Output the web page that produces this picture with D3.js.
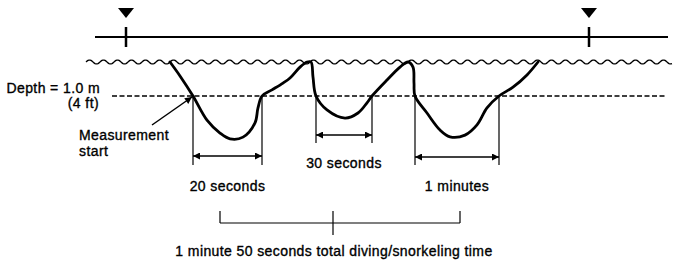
<!DOCTYPE html>
<html><head><meta charset="utf-8">
<script src="https://cdn.jsdelivr.net/npm/d3@7"></script>
<style>
body{margin:0;background:#fff}
svg{display:block}
text{font-family:"Liberation Sans",Arial,sans-serif;font-size:14px;letter-spacing:0.4px;fill:#000;stroke:#000;stroke-width:0.35px}
</style></head><body><div id="chart"></div>
<script>
// dive profile : time (diagram units) / depth (m)
var profileTime = [16.8, 18.8, 21.4, 24.2, 26.8, 28.8, 31.4, 33.8, 34.4, 35.2, 37.2, 39.4, 40.8, 42.8, 44.2, 45.0, 45.4, 46.0, 48.2, 51.8, 54.4, 56.2, 57.2, 60.2, 62.8, 64.4, 65.4, 65.6, 65.8, 68.2, 70.8, 72.8, 75.8, 78.2, 80.2, 82.6, 85.4, 88.2, 90.4]
var profileDepth = [0, 0.41, 1.0, 1.71, 2.09, 2.26, 2.21, 1.79, 1.35, 1.0, 0.82, 0.62, 0.47, 0.15, 0, 0, 0.44, 1.0, 1.41, 1.65, 1.5, 1.2, 1.0, 0.53, 0.15, 0, 0.15, 0.62, 1.0, 1.5, 2.0, 2.2, 2.15, 1.85, 1.35, 1.0, 0.74, 0.38, 0]

// time spent below the measurement depth
var diveLabels = ["20 seconds", "30 seconds", "1 minutes"]
var diveStart = [21.4, 46.0, 65.8]
var diveEnd = [35.2, 57.2, 82.6]
var measureDepth = 1.0

var totalTicks = [26.8, 49.4, 74.8]
var totalLabel = "1 minute 50 seconds total diving/snorkeling time"
var markerTime = [8, 100.6]
var depthLabels = ["Depth = 1.0 m", "(4 ft)"]
var startLabels = ["Measurement", "start"]

var width = 679, height = 266

var x = d3.scaleLinear().domain([0, 117.2]).range([86, 672])
var y = d3.scaleLinear().domain([0, 1]).range([62, 96])

var svg = d3.select("#chart").append("svg")
    .attr("width", width)
    .attr("height", height)

var defs = svg.append("defs")
defs.append("marker").attr("id", "head")
    .attr("viewBox", "0 0 10 10").attr("refX", 10).attr("refY", 5)
    .attr("markerWidth", 9).attr("markerHeight", 7)
    .attr("markerUnits", "userSpaceOnUse")
    .attr("orient", "auto-start-reverse")
  .append("path").attr("d", "M0,0L10,5L0,10Z").attr("fill", "#000")

// top line + markers
svg.append("line")
    .attr("x1", x(1.8)).attr("x2", x(116.4))
    .attr("y1", 37).attr("y2", 37)
    .attr("stroke", "#000").attr("stroke-width", 2)

svg.selectAll(".mk").data(markerTime).enter().append("g")
    .attr("transform", d => "translate(" + x(d) + ",0)")
  .each(function () {
    var g = d3.select(this)
    g.append("path").attr("d", "M-8,8L8,8L0,18Z").attr("fill", "#000")
    g.append("line").attr("y1", 27).attr("y2", 47)
        .attr("stroke", "#000").attr("stroke-width", 2.5)
  })

// water surface
var wave = d3.range(x(0), x(117.2) + 0.5, 1).map(px => [px, y(0) + 2 * Math.sin(2 * Math.PI * (px - x(0)) / 14 + Math.PI)])
svg.append("path").attr("d", d3.line()(wave))
    .attr("fill", "none").attr("stroke", "#000").attr("stroke-width", 1.3)

// measurement depth
svg.append("line")
    .attr("x1", x(5.2)).attr("x2", x(115.8))
    .attr("y1", y(measureDepth)).attr("y2", y(measureDepth))
    .attr("stroke", "#000").attr("stroke-width", 1.5)
    .attr("stroke-dasharray", "5,2.5")

svg.append("text").attr("x", 100).attr("y", 93).attr("text-anchor", "end").text(depthLabels[0])
svg.append("text").attr("x", 99).attr("y", 108).attr("text-anchor", "end").text(depthLabels[1])

// per-dive measurements
var arrowY = [156, 135, 157], lineBottom = [165, 143, 165], labelY = [191, 168, 191]
diveLabels.forEach((lab, i) => {
  [diveStart[i], diveEnd[i]].forEach(t => {
    svg.append("line")
        .attr("x1", x(t)).attr("x2", x(t))
        .attr("y1", y(measureDepth)).attr("y2", lineBottom[i])
        .attr("stroke", "#000").attr("stroke-width", 1.2)
  })
  svg.append("line")
      .attr("x1", x(diveStart[i])).attr("x2", x(diveEnd[i]))
      .attr("y1", arrowY[i]).attr("y2", arrowY[i])
      .attr("stroke", "#000").attr("stroke-width", 1.5)
      .attr("marker-start", "url(#head)").attr("marker-end", "url(#head)")
  svg.append("text")
      .attr("x", (x(diveStart[i]) + x(diveEnd[i])) / 2).attr("y", labelY[i])
      .attr("text-anchor", "middle").text(lab)
})

// profile
svg.append("path")
    .attr("d", d3.line().x(d => x(d[0])).y(d => y(d[1])).curve(d3.curveCatmullRom.alpha(0.5))(d3.zip(profileTime, profileDepth)))
    .attr("fill", "none").attr("stroke", "#000").attr("stroke-width", 2.8)
    .attr("stroke-linejoin", "round").attr("stroke-linecap", "round")

// measurement start
svg.append("line")
    .attr("x1", 152).attr("y1", 125)
    .attr("x2", x(diveStart[0]) - 1).attr("y2", y(measureDepth) + 1)
    .attr("stroke", "#000").attr("stroke-width", 1.5)
    .attr("marker-end", "url(#head)")
svg.selectAll(".sl").data(startLabels).enter().append("text")
    .attr("x", 79).attr("y", (d, i) => 140 + i * 16).text(d => d)

// total
svg.append("line")
    .attr("x1", x(totalTicks[0])).attr("x2", x(totalTicks[2]))
    .attr("y1", 223).attr("y2", 223)
    .attr("stroke", "#000").attr("stroke-width", 1.2)
svg.selectAll(".tt").data(totalTicks).enter().append("line")
    .attr("x1", d => x(d)).attr("x2", d => x(d))
    .attr("y1", 211).attr("y2", (d, i) => i == 1 ? 235 : 223)
    .attr("stroke", "#000").attr("stroke-width", 1.2)
svg.append("text")
    .attr("x", x(totalTicks[1]) + 1).attr("y", 256)
    .attr("text-anchor", "middle").text(totalLabel)
</script></body></html>
